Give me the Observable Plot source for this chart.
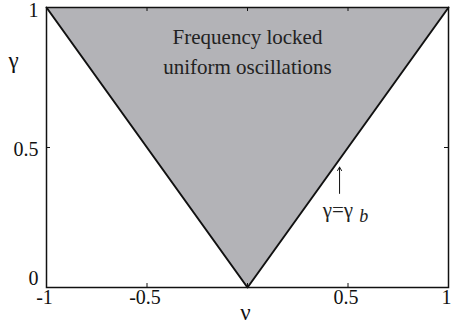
<!DOCTYPE html>
<html>
<head>
<meta charset="utf-8">
<script src="https://cdn.jsdelivr.net/npm/d3@7"></script>
<script src="https://cdn.jsdelivr.net/npm/@observablehq/plot@0.6"></script>
<style>
  html, body { margin: 0; padding: 0; background: #fff; }
  #chart svg { display: block; }
  #chart svg text { font-family: "Liberation Serif", "Times New Roman", serif; }
</style>
</head>
<body>
<div id="chart"></div>
<script>
// Region boundary vertices (nu, gamma)
const nu = [-1, 0, 1];
const gamma = [1, 0, 1];
// Axis ticks
const xTicks = [-1, -0.5, 0, 0.5, 1];
const xTickLabels = [-1, -0.5, 0.5, 1];
const yTicks = [0, 0.5, 1];
// Annotations
const regionLines = ["Frequency locked", "uniform oscillations"];
const regionX = [0, 0];
const regionY = [0.893, 0.786];
const arrowX = 0.458, arrowFrom = 0.336, arrowTo = 0.43;
const boundaryLabel = "γ=γ", boundaryLabelX = 0.45, boundaryLabelY = 0.275;
const boundarySub = "b", boundarySubX = 0.578, boundarySubY = 0.255;

const pts = nu.map((x, i) => ({x, y: gamma[i]}));
const W = 451, H = 327;
const mL = 46, mR = 3, mT = 7, mB = 40;
const fw = W - mL - mR, fh = H - mT - mB;

const font = "'Liberation Serif', 'Times New Roman', serif";

function yLabel(v, dy) {
  return Plot.text([v], {x: -1, y: d => d, text: d => String(d), textAnchor: "end", dx: -8, dy, fontSize: 20, fontFamily: font, fill: "#111"});
}

const plot = Plot.plot({
  width: W, height: H,
  marginLeft: mL, marginRight: mR, marginTop: mT, marginBottom: mB,
  x: {domain: [-1, 1], axis: null},
  y: {domain: [0, 1], axis: null},
  style: {fontFamily: font, fontSize: "20px", background: "#fff", color: "#111"},
  marks: [
    Plot.areaY(pts, {x: "x", y1: "y", y2: 1, fill: "#b3b3b7"}),
    Plot.line(pts, {x: "x", y: "y", stroke: "#111", strokeWidth: 2}),
    Plot.frame({stroke: "#111", strokeWidth: 1.5}),
    // inward ticks
    Plot.tickX(xTicks, {x: d => d, insetTop: fh - 4, stroke: "#111"}),
    Plot.tickX(xTicks, {x: d => d, insetBottom: fh - 4, stroke: "#111"}),
    Plot.tickY(yTicks, {y: d => d, insetRight: fw - 4, stroke: "#111"}),
    Plot.tickY(yTicks, {y: d => d, insetLeft: fw - 4, stroke: "#111"}),
    // x tick labels
    Plot.text(xTickLabels, {x: d => d, y: 0, text: d => String(d), dy: 10, dx: -2, fontSize: 20, fontFamily: font, fill: "#111"}),
    // y tick labels
    yLabel(1, 3), yLabel(0.5, 2), yLabel(0, -9),
    // axis titles
    Plot.text(["ν"], {x: 0, y: 0, text: d => d, dy: 25, dx: -2, fontSize: 23, fontFamily: font, fill: "#111"}),
    Plot.text(["γ"], {x: -1, y: 0.81, text: d => d, dx: -33, fontSize: 23, fontFamily: font, fill: "#111"}),
    // region label
    Plot.text(regionLines, {x: (d, i) => regionX[i], y: (d, i) => regionY[i], text: d => d, fontSize: 21, fontFamily: font, fill: "#222"}),
    // boundary annotation
    Plot.arrow([0], {x1: arrowX, y1: arrowFrom, x2: arrowX, y2: arrowTo, stroke: "#111", strokeWidth: 1, headLength: 6}),
    Plot.text([boundaryLabel], {x: boundaryLabelX, y: boundaryLabelY, text: d => d, fontSize: 21, fontFamily: font, fill: "#222"}),
    Plot.text([boundarySub], {x: boundarySubX, y: boundarySubY, text: d => d, fontSize: 18, fontStyle: "italic", fontFamily: font, fill: "#222"})
  ]
});
document.getElementById("chart").appendChild(plot);
</script>
</body>
</html>
